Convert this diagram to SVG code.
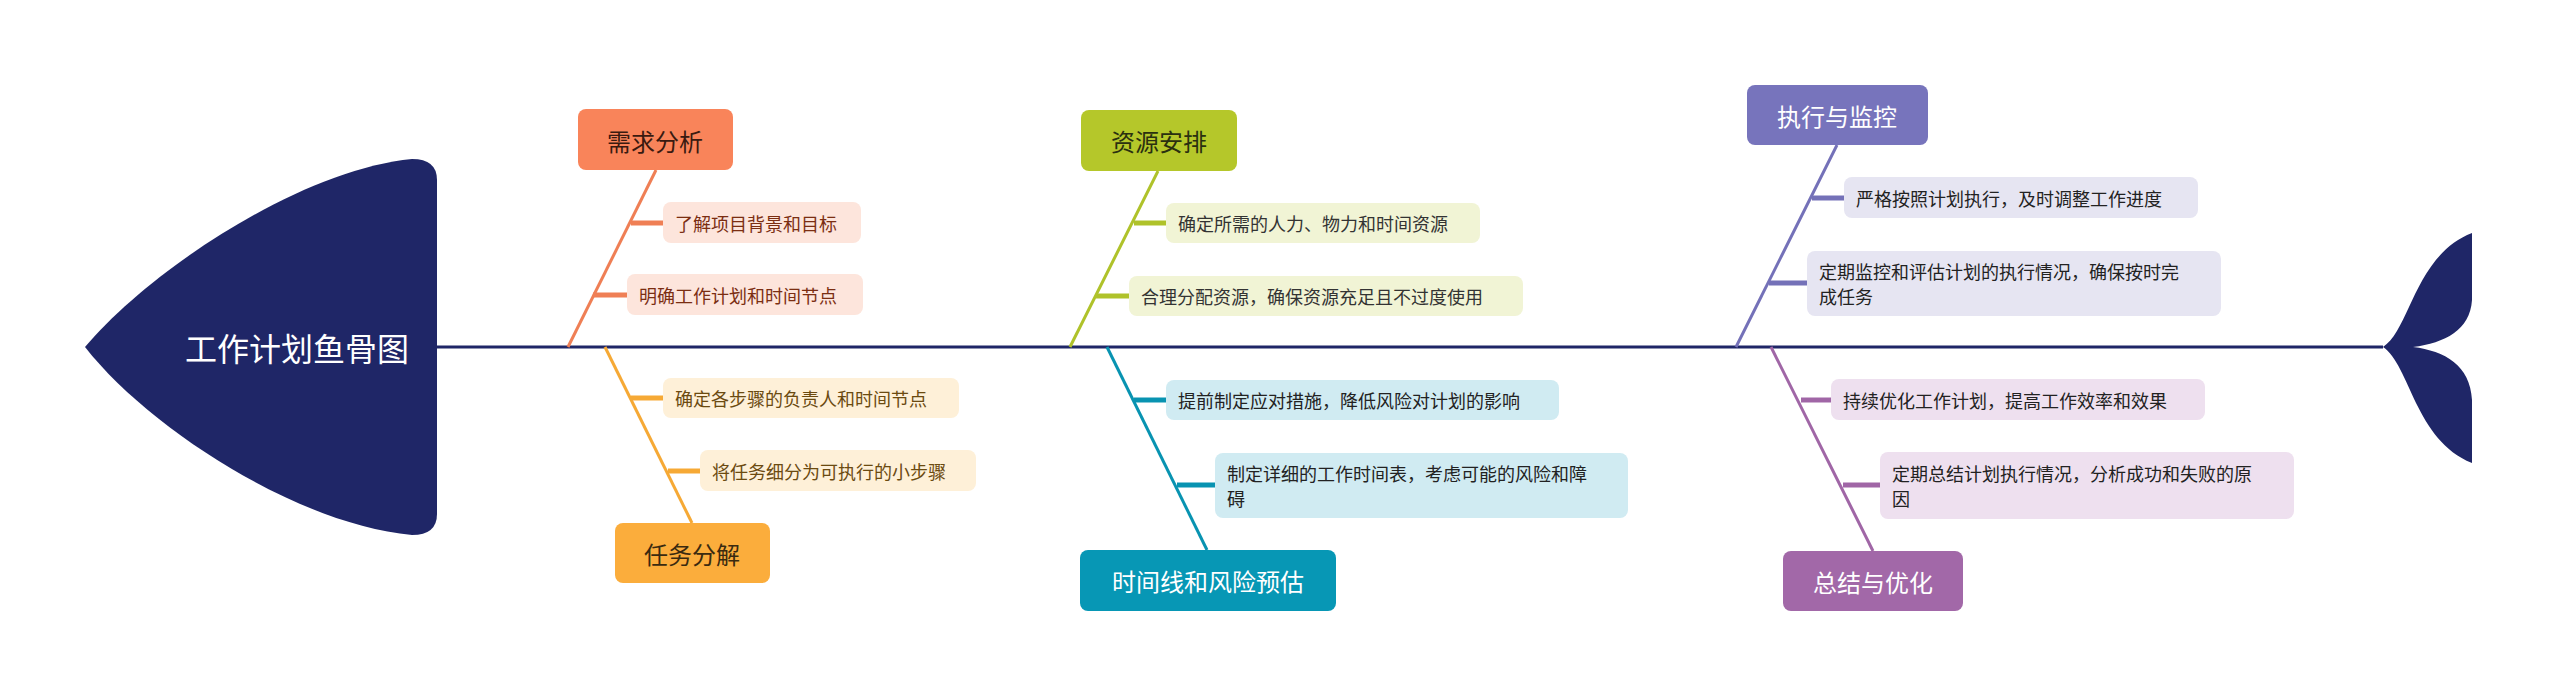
<svg xmlns="http://www.w3.org/2000/svg" width="2560" height="696" viewBox="0 0 2560 696">
<style>
text{font-family:"Noto Sans CJK SC","Liberation Sans",sans-serif;dominant-baseline:central}
.m{font-size:24px;text-anchor:middle}
.c{font-size:18px}
.l{fill:none;stroke-width:3}
.s{stroke-width:5}
</style>
<rect width="2560" height="696" fill="#fff"/>
<g id="connectors">
<line x1="437" y1="347" x2="2383" y2="347" stroke="#1F2667" stroke-width="3"/>
<g stroke="#EF7F55" class="l"><line x1="656" y1="170" x2="568" y2="347"/><line class="s" x1="631" y1="223" x2="663" y2="223"/><line class="s" x1="593" y1="295" x2="627" y2="295"/></g>
<g stroke="#F6A935" class="l"><line x1="605" y1="347" x2="692" y2="523"/><line class="s" x1="631" y1="398" x2="663" y2="398"/><line class="s" x1="668" y1="471" x2="700" y2="471"/></g>
<g stroke="#AFC22A" class="l"><line x1="1158" y1="171" x2="1070" y2="347"/><line class="s" x1="1134" y1="223" x2="1166" y2="223"/><line class="s" x1="1096" y1="296" x2="1129" y2="296"/></g>
<g stroke="#0893B1" class="l"><line x1="1107" y1="347" x2="1207" y2="550"/><line class="s" x1="1134" y1="400" x2="1166" y2="400"/><line class="s" x1="1177" y1="485" x2="1215" y2="485"/></g>
<g stroke="#7471B8" class="l"><line x1="1837" y1="145" x2="1736" y2="347"/><line class="s" x1="1812" y1="198" x2="1844" y2="198"/><line class="s" x1="1769" y1="283" x2="1807" y2="283"/></g>
<g stroke="#A066A6" class="l"><line x1="1771" y1="347" x2="1873" y2="551"/><line class="s" x1="1801" y1="400" x2="1831" y2="400"/><line class="s" x1="1843" y1="485" x2="1880" y2="485"/></g>
</g>
<g id="head"><path d="M437,180 Q437,159 412,159 C300,170 150,270 85,347 C150,430 300,525 412,535 Q437,535 437,514 Z" fill="#1F2667"/><text x="297" y="347" class="m" style="font-size:32px" fill="#fff">工作计划鱼骨图</text></g>
<g id="tail"><path d="M2383,347 C2410,330 2415,255 2472,233 L2472,300 C2470,330 2445,343 2413,347 C2445,351 2470,365 2472,400 L2472,463 C2415,440 2410,365 2383,347 Z" fill="#1F2667"/></g>
<g id="n1"><rect x="578" y="109" width="155" height="61" rx="8" fill="#F9845A"/><text x="655" y="140" class="m" fill="#3a1a10">需求分析</text></g>
<g id="n1a"><rect x="663" y="202" width="198" height="41" rx="8" fill="#FDE5DC"/><text x="675" y="223" class="c" fill="#7B2E12">了解项目背景和目标</text></g>
<g id="n1b"><rect x="627" y="274" width="236" height="41" rx="8" fill="#FDE5DC"/><text x="639" y="295" class="c" fill="#7B2E12">明确工作计划和时间节点</text></g>
<g id="n2"><rect x="615" y="523" width="155" height="60" rx="8" fill="#FBAD3C"/><text x="692" y="553" class="m" fill="#3a2a10">任务分解</text></g>
<g id="n2a"><rect x="663" y="378" width="296" height="40" rx="8" fill="#FEF0D8"/><text x="675" y="398" class="c" fill="#6B4A10">确定各步骤的负责人和时间节点</text></g>
<g id="n2b"><rect x="700" y="450" width="276" height="41" rx="8" fill="#FEF0D8"/><text x="712" y="471" class="c" fill="#6B4A10">将任务细分为可执行的小步骤</text></g>
<g id="n3"><rect x="1081" y="110" width="156" height="61" rx="8" fill="#B5C72A"/><text x="1159" y="140" class="m" fill="#2a3010">资源安排</text></g>
<g id="n3a"><rect x="1166" y="203" width="314" height="40" rx="8" fill="#F1F4D5"/><text x="1178" y="223" class="c" fill="#333">确定所需的人力、物力和时间资源</text></g>
<g id="n3b"><rect x="1129" y="276" width="394" height="40" rx="8" fill="#F1F4D5"/><text x="1141" y="296" class="c" fill="#333">合理分配资源，确保资源充足且不过度使用</text></g>
<g id="n4"><rect x="1080" y="550" width="256" height="61" rx="8" fill="#0797B5"/><text x="1208" y="580" class="m" fill="#fff">时间线和风险预估</text></g>
<g id="n4a"><rect x="1166" y="380" width="393" height="40" rx="8" fill="#D0EBF2"/><text x="1178" y="400" class="c" fill="#222">提前制定应对措施，降低风险对计划的影响</text></g>
<g id="n4b"><rect x="1215" y="453" width="413" height="65" rx="8" fill="#D0EBF2"/><text x="1227" y="473" class="c" fill="#222">制定详细的工作时间表，考虑可能的风险和障</text><text x="1227" y="498" class="c" fill="#222">碍</text></g>
<g id="n5"><rect x="1747" y="85" width="181" height="60" rx="8" fill="#7774BC"/><text x="1837" y="115" class="m" fill="#fff">执行与监控</text></g>
<g id="n5a"><rect x="1844" y="177" width="354" height="41" rx="8" fill="#E6E5F2"/><text x="1856" y="198" class="c" fill="#222">严格按照计划执行，及时调整工作进度</text></g>
<g id="n5b"><rect x="1807" y="251" width="414" height="65" rx="8" fill="#E6E5F2"/><text x="1819" y="271" class="c" fill="#222">定期监控和评估计划的执行情况，确保按时完</text><text x="1819" y="296" class="c" fill="#222">成任务</text></g>
<g id="n6"><rect x="1783" y="551" width="180" height="60" rx="8" fill="#A268A8"/><text x="1873" y="581" class="m" fill="#fff">总结与优化</text></g>
<g id="n6a"><rect x="1831" y="379" width="374" height="41" rx="8" fill="#EEE0EF"/><text x="1843" y="400" class="c" fill="#222">持续优化工作计划，提高工作效率和效果</text></g>
<g id="n6b"><rect x="1880" y="452" width="414" height="67" rx="8" fill="#EEE0EF"/><text x="1892" y="473" class="c" fill="#222">定期总结计划执行情况，分析成功和失败的原</text><text x="1892" y="498" class="c" fill="#222">因</text></g>
</svg>
